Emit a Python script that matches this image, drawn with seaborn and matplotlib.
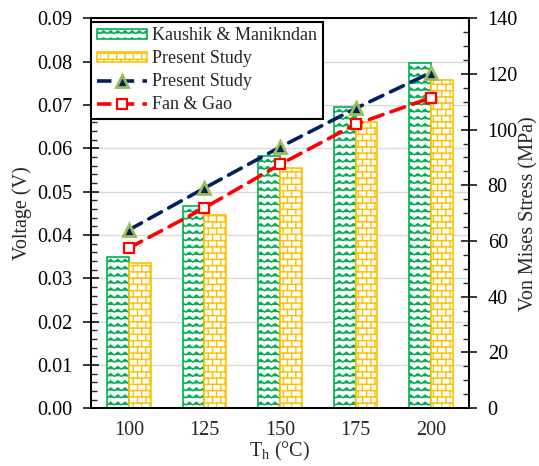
import numpy as np
import pandas as pd
import matplotlib
matplotlib.use("Agg")
import matplotlib.pyplot as plt
import matplotlib.hatch as mhatch
from matplotlib.path import Path
from matplotlib.ticker import MultipleLocator, FormatStrFormatter
from matplotlib.patches import Patch
from matplotlib.lines import Line2D
import seaborn as sns

# ---------------- data ----------------
temps = ["100", "125", "150", "175", "200"]
voltage_kaushik = [0.0350, 0.0467, 0.0582, 0.0694, 0.0796]
voltage_present = [0.0334, 0.0445, 0.0554, 0.0660, 0.0757]
stress_present = [64.0, 79.0, 93.7, 107.6, 120.5]
stress_fan_gao = [57.5, 71.9, 87.5, 101.9, 111.5]
bar_labels = ["Kaushik & Manikndan", "Present Study"]
line_labels = ["Present Study", "Fan & Gao"]


# ---------------- custom hatches ----------------
class ZigzagHatch(mhatch.HatchPatternBase):
    ROWS, PERIODS, AMP = 14, 14, 0.014

    def __init__(self, hatch, density):
        self.on = 'z' in hatch
        self.npts = 2 * self.PERIODS + 1
        self.num_vertices = self.ROWS * self.npts if self.on else 0

    def set_vertices_and_codes(self, vertices, codes):
        npts = self.npts
        xs = np.linspace(0, 1, npts)
        offs = np.where(np.arange(npts) % 2 == 0, -self.AMP, self.AMP)
        k = 0
        for r in range(self.ROWS):
            y0 = (r + 0.5) / self.ROWS
            vertices[k:k + npts, 0] = xs
            vertices[k:k + npts, 1] = y0 + offs
            codes[k] = Path.MOVETO
            codes[k + 1:k + npts] = Path.LINETO
            k += npts


class BrickHatch(mhatch.HatchPatternBase):
    ROWS, COLS = 16, 12

    def __init__(self, hatch, density):
        self.on = 'b' in hatch
        segs = []
        if self.on:
            R, C = self.ROWS, self.COLS
            for r in range(R):
                y = (r + 0.5) / R
                segs.append(((0.0, y), (1.0, y)))
            for r in range(R):
                y0 = (r + 0.5) / R
                y1 = (r + 1.5) / R
                shift = 0.5 / C if r % 2 else 0.0
                for c in range(C):
                    x = c / C + shift
                    if y1 <= 1.0:
                        segs.append(((x, y0), (x, y1)))
                    else:
                        segs.append(((x, y0), (x, 1.0)))
                        segs.append(((x, 0.0), (x, y1 - 1.0)))
        self.segs = segs
        self.num_vertices = 2 * len(segs)

    def set_vertices_and_codes(self, vertices, codes):
        for i, (a, b) in enumerate(self.segs):
            vertices[2 * i] = a
            vertices[2 * i + 1] = b
            codes[2 * i] = Path.MOVETO
            codes[2 * i + 1] = Path.LINETO


mhatch._hatch_types.extend([ZigzagHatch, BrickHatch])
mhatch._validate_hatch_pattern = lambda h: None

# ---------------- style ----------------
sns.set_theme(style="white")
plt.rcParams['font.family'] = ['Liberation Serif', 'DejaVu Serif']
plt.rcParams['mathtext.fontset'] = 'custom'
plt.rcParams['mathtext.rm'] = 'Liberation Serif'
plt.rcParams['hatch.linewidth'] = 1.0

GREEN = "#00B050"
YELLOW = "#FFC000"
NAVY = "#002060"
RED = "#FF0000"
FS = 14.5
DASH = (4.0, 2.3)

df = pd.DataFrame({
    "T": temps * 2,
    "Voltage": voltage_kaushik + voltage_present,
    "Source": [bar_labels[0]] * len(temps) + [bar_labels[1] + " "] * len(temps),
})

fig = plt.figure(figsize=(5.39, 4.66), dpi=100)
ax = fig.add_subplot(111)
fig.subplots_adjust(left=0.169, right=0.870, top=0.961, bottom=0.124)

sns.barplot(data=df, x="T", y="Voltage", hue="Source",
            hue_order=[bar_labels[0], bar_labels[1] + " "],
            palette=[GREEN, YELLOW], width=0.58, gap=0, ax=ax, legend=False)

for cont, col, hat in zip(ax.containers, [GREEN, YELLOW], ['z', 'b']):
    for bar in cont:
        bar.set_facecolor("white")
        bar.set_edgecolor(col)
        bar.set_hatch(hat)
        bar.set_linewidth(1.2)

ax.set_ylim(0, 0.09)
ax.yaxis.set_major_locator(MultipleLocator(0.01))
ax.yaxis.set_minor_locator(MultipleLocator(0.002))
ax.yaxis.set_major_formatter(FormatStrFormatter("%.2f"))
ax.grid(axis="y", which="major", color="#D9D9D9", lw=1.0)
ax.grid(axis="x", visible=False)
ax.set_axisbelow(True)
ax.set_xlabel(r"T$_\mathregular{h}$ (°C)", fontsize=FS, labelpad=0)
ax.set_ylabel("Voltage (V)", fontsize=FS, labelpad=4)
ax.tick_params(axis="y", which="major", direction="inout", length=11, width=1.1,
               labelsize=FS, pad=8, left=True, colors="black")
ax.tick_params(axis="y", which="minor", direction="in", length=4.5, width=1.0, left=True)
ax.tick_params(axis="x", length=0, labelsize=FS, pad=9)

ax2 = ax.twinx()
x_pos = np.arange(len(temps))
sns.lineplot(x=x_pos, y=stress_present, ax=ax2, color=NAVY, lw=2.6,
             marker="^", markersize=9, markerfacecolor=NAVY,
             markeredgecolor="#9BBB59", markeredgewidth=2)
sns.lineplot(x=x_pos, y=stress_fan_gao, ax=ax2, color=RED, lw=2.6,
             marker="s", markersize=7.5, markerfacecolor="white",
             markeredgecolor=RED, markeredgewidth=1.6)
l1, l2 = ax2.lines[0], ax2.lines[1]
for ln in (l1, l2):
    ln.set_dashes(DASH)
    ln.set_dash_capstyle("round")

ax2.set_ylim(0, 140)
ax2.yaxis.set_major_locator(MultipleLocator(20))
ax2.yaxis.set_minor_locator(MultipleLocator(5))
ax2.set_ylabel("Von Mises Stress (MPa)", fontsize=FS, labelpad=1)
ax2.tick_params(axis="y", which="major", direction="inout", length=11, width=1.1,
                labelsize=FS, pad=8, right=True, colors="black")
ax2.tick_params(axis="y", which="minor", direction="in", length=4.5, width=1.0, right=True)
ax.set_xlim(-0.5, len(temps) - 0.5)

for a in (ax, ax2):
    for sp in a.spines.values():
        sp.set_visible(True)
        sp.set_color("black")
        sp.set_linewidth(1.3)

handles = [
    Patch(facecolor="white", edgecolor=GREEN, hatch='z', lw=1.2),
    Patch(facecolor="white", edgecolor=YELLOW, hatch='b', lw=1.2),
    Line2D([], [], color=NAVY, lw=2.6, dashes=DASH, marker="^", markersize=9,
           markerfacecolor=NAVY, markeredgecolor="#9BBB59", markeredgewidth=2),
    Line2D([], [], color=RED, lw=2.6, dashes=DASH, marker="s", markersize=7.5,
           markerfacecolor="white", markeredgecolor=RED, markeredgewidth=1.6),
]
leg = ax2.legend(handles, bar_labels + line_labels, loc="upper left",
                 bbox_to_anchor=(0.0, 0.99), fontsize=13, frameon=True,
                 fancybox=False, framealpha=1, edgecolor="black",
                 handlelength=2.8, handleheight=0.5, labelspacing=0.33,
                 borderpad=0.3, handletextpad=0.3, borderaxespad=0.0)
leg.get_frame().set_linewidth(1.5)

fig.savefig("out.png", dpi=100)
